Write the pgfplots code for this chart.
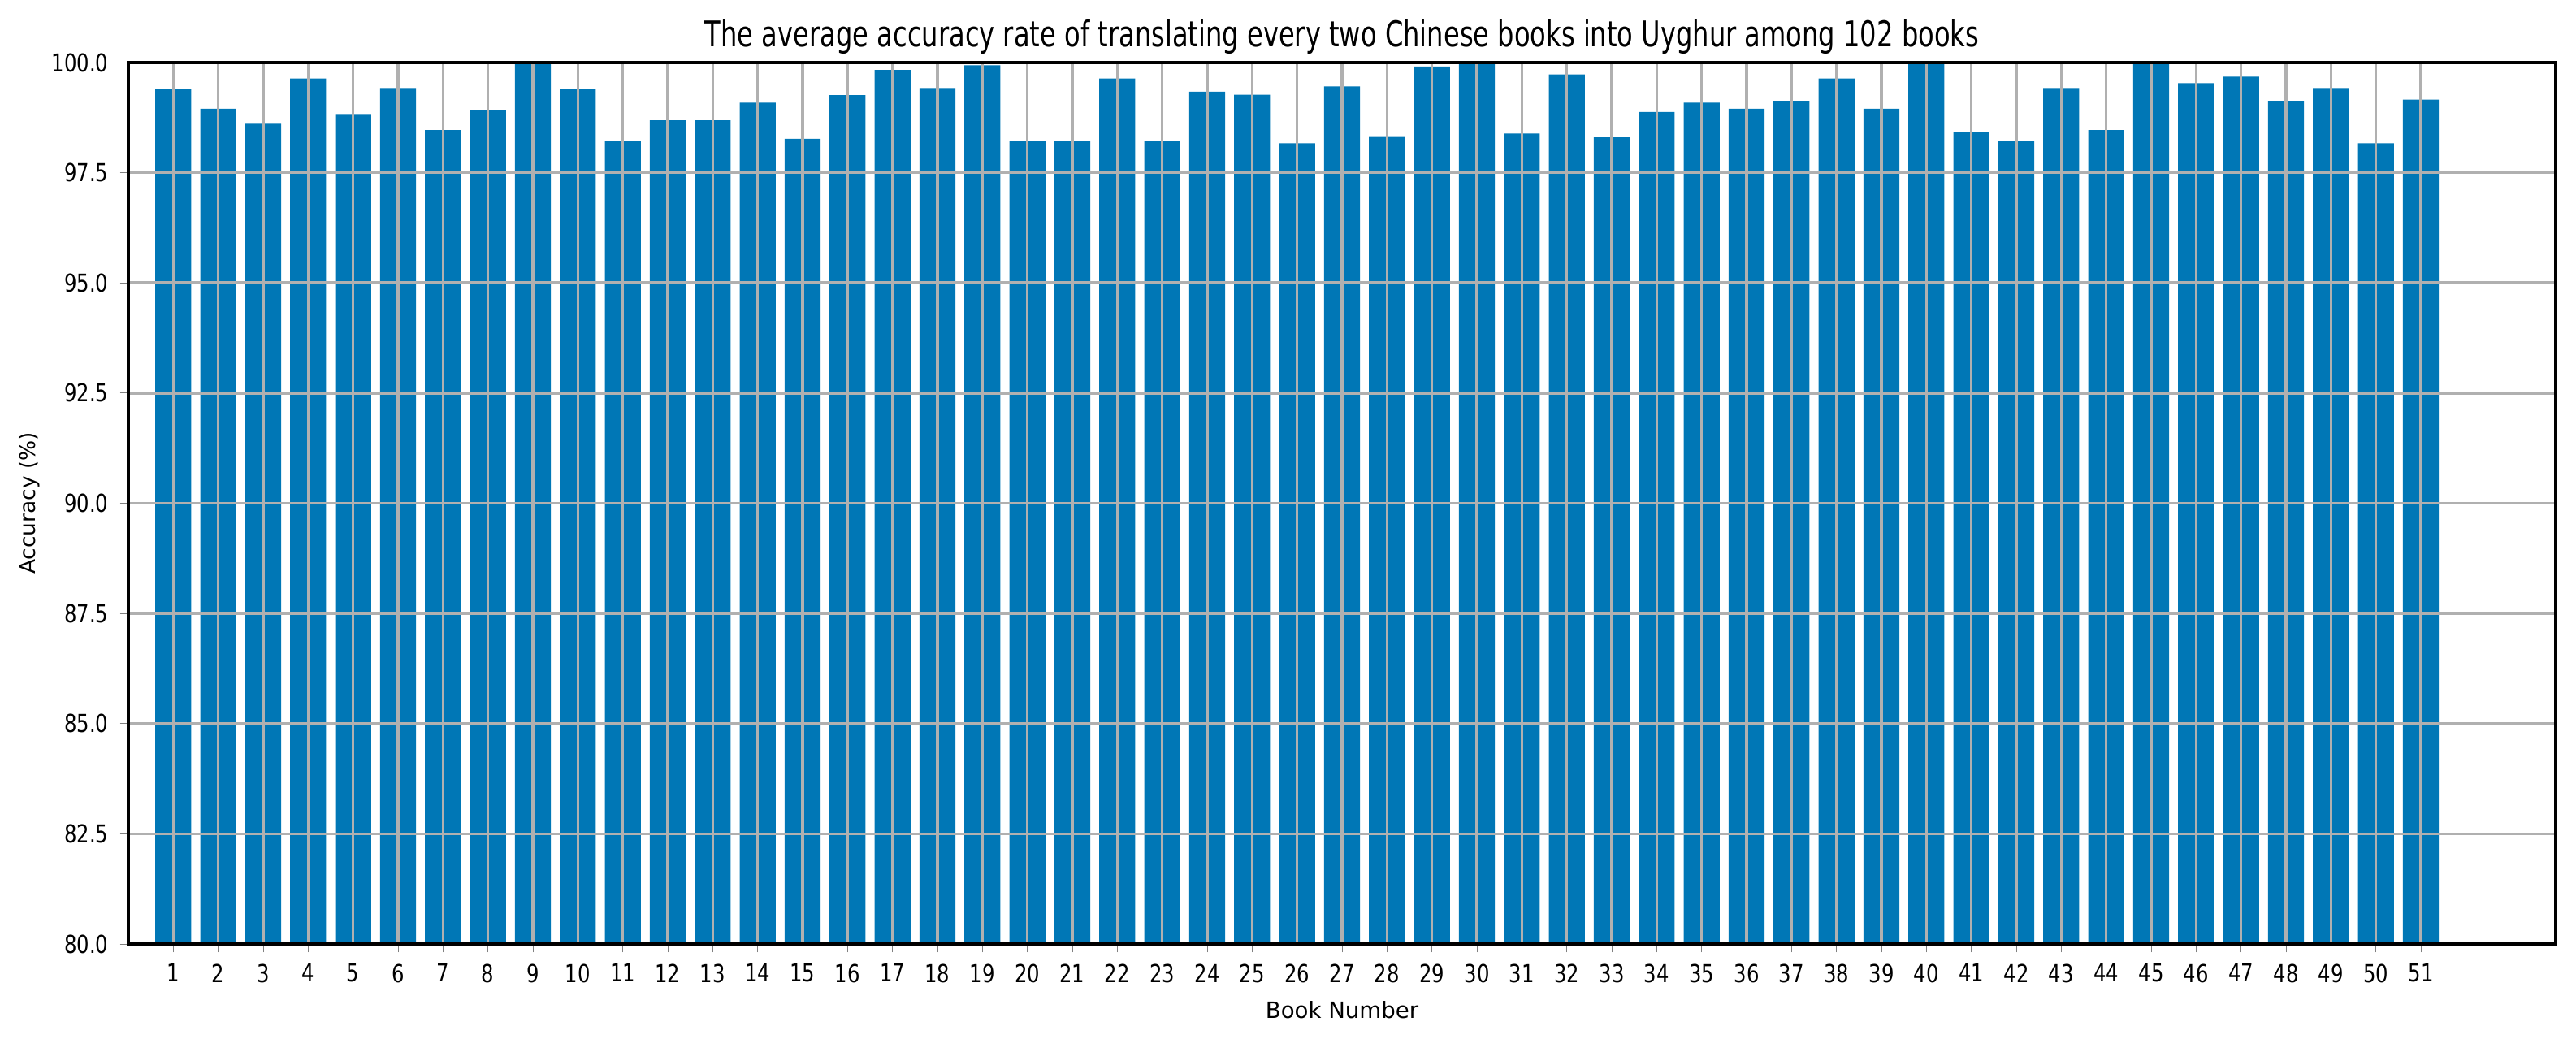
\documentclass[border=0pt]{standalone}
\usepackage{pgfplots}
\pgfplotsset{compat=1.18}
\usepackage{fontspec}
\setmainfont{DejaVu Sans}
\newfontfamily\titlefont{DejaVu Sans}[FakeStretch=0.737]
\newfontfamily\tickfont{DejaVu Sans}[FakeStretch=0.8]
\definecolor{barblue}{RGB}{0,119,182}
\definecolor{gridgray}{RGB}{176,176,176}
\begin{document}
\begin{tikzpicture}
\begin{axis}[
  scale only axis,
  width=747pt, height=271.25pt,
  xmin=0, xmax=54,
  ymin=80, ymax=100,
  ybar, bar width=0.8,
  xtick={1,...,51},
  ytick={80,82.5,85,87.5,90,92.5,95,97.5,100},
  yticklabel style={/pgf/number format/fixed,/pgf/number format/precision=1,/pgf/number format/fixed zerofill},
  /pgf/number format/assume math mode=true,
  tick label style={font=\tickfont\fontsize{7.6}{9}\selectfont},
  tick align=outside,
  major tick length=2.6pt,
  xtick pos=bottom, ytick pos=left,
  grid=major,
  major grid style={draw=gridgray, line width=0.9pt},
  axis line style={line width=0.8pt},
  axis on top,
  every axis title shift=0pt,
  title={The average accuracy rate of translating every two Chinese books into Uyghur among 102 books},
  title style={font=\titlefont\fontsize{10.9}{13}\selectfont, at={(axis description cs:0.5,1)}, anchor=base, yshift=5pt},
  xlabel={Book Number},
  xlabel style={font=\fontsize{6.9}{8}\selectfont, at={(axis description cs:0.5,0)}, anchor=center, yshift=-20.25pt},
  ylabel={Accuracy (\%)},
  ylabel style={font=\fontsize{6.6}{8}\selectfont, at={([xshift=-30.5pt]axis description cs:0,0.5)}, anchor=center},
]
\addplot[fill=barblue, draw=none] coordinates {
(1,99.39) (2,98.95) (3,98.61) (4,99.64) (5,98.83) (6,99.42) (7,98.47) (8,98.91) (9,100) (10,99.39)
(11,98.22) (12,98.69) (13,98.69) (14,99.09) (15,98.27) (16,99.26) (17,99.83) (18,99.42) (19,99.94) (20,98.22)
(21,98.22) (22,99.64) (23,98.22) (24,99.34) (25,99.27) (26,98.17) (27,99.46) (28,98.31) (29,99.91) (30,100)
(31,98.39) (32,99.73) (33,98.30) (34,98.88) (35,99.09) (36,98.95) (37,99.13) (38,99.64) (39,98.95) (40,100)
(41,98.43) (42,98.22) (43,99.42) (44,98.47) (45,100) (46,99.53) (47,99.68) (48,99.13) (49,99.42) (50,98.17)
(51,99.16)
};
\end{axis}
\pgfresetboundingbox
\useasboundingbox ([shift={(-39.5pt,-29pt)}]current axis.south west) rectangle ([shift={(6.25pt,19.25pt)}]current axis.north east);
\end{tikzpicture}
\end{document}
